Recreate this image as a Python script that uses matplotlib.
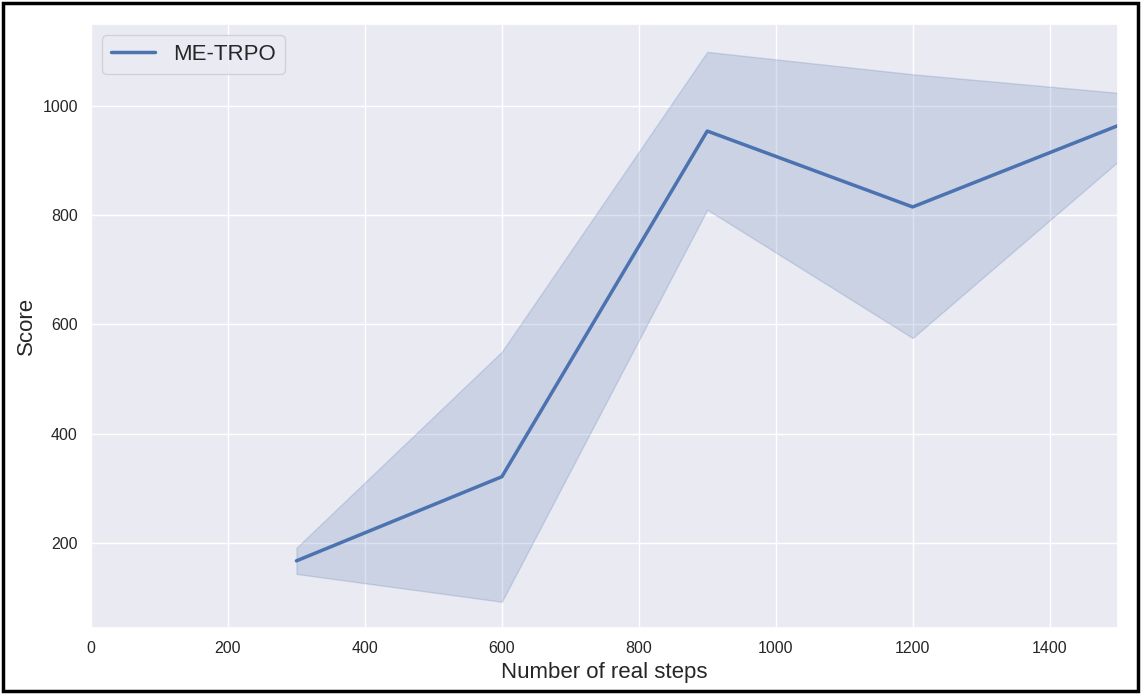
import matplotlib
matplotlib.use('Agg')
import matplotlib.pyplot as plt
import seaborn as sns
from matplotlib.patches import Rectangle

steps = [300, 600, 900, 1200, 1500]
score_mean = [167, 321, 954, 815, 964]
score_low = [143, 92, 810, 575, 898]
score_high = [191, 550, 1099, 1058, 1024]

sns.set_theme(style='darkgrid')
plt.rcParams['font.family'] = ['Liberation Sans', 'DejaVu Sans']

fig = plt.figure(figsize=(11.41, 6.94), dpi=100)
ax = fig.add_axes([0.0798, 0.0951, 0.9001, 0.8703])

color = sns.color_palette('deep')[0]
ax.fill_between(steps, score_low, score_high, color=color, alpha=0.2, linewidth=1)
ax.plot(steps, score_mean, color=color, linewidth=2.5, label='ME-TRPO')

ax.set_xlim(0, 1500)
ax.set_ylim(44, 1150)
ax.set_xticks([0, 200, 400, 600, 800, 1000, 1200, 1400])
ax.set_yticks([200, 400, 600, 800, 1000])
ax.tick_params(labelsize=11.5)
ax.set_xlabel('Number of real steps', fontsize=16)
ax.set_ylabel('Score', fontsize=16)
ax.legend(loc='upper left', fontsize=16)

# black border round the whole picture
fig.patches.append(Rectangle((0.003, 0.004), 0.994, 0.992, transform=fig.transFigure,
                             fill=False, edgecolor='black', linewidth=2.5))

fig.savefig('out.png', dpi=100)
